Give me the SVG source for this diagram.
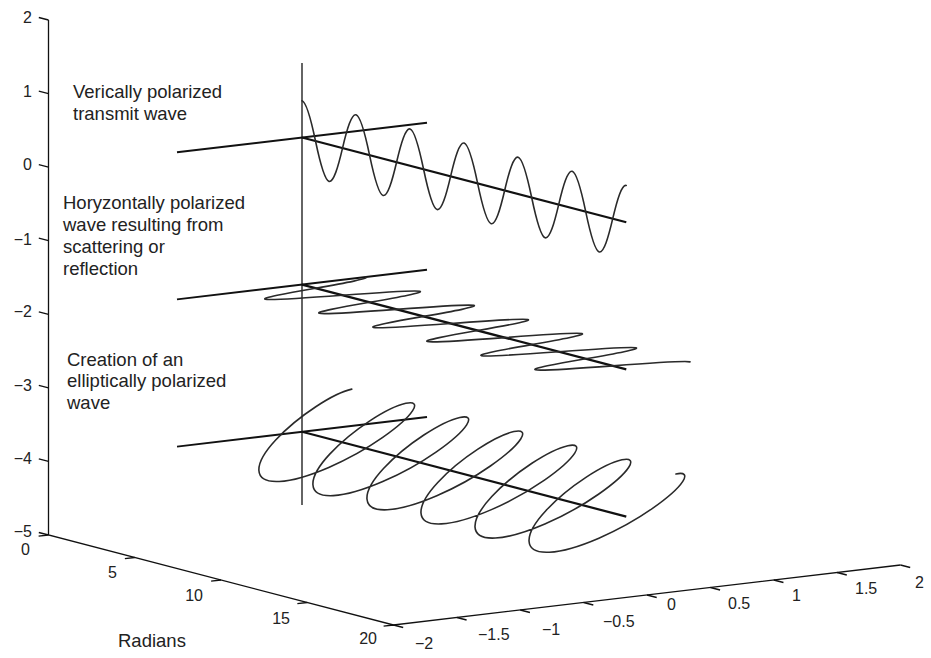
<svg xmlns="http://www.w3.org/2000/svg" width="931" height="658" viewBox="0 0 931 658">
<style>
.ax{fill:none;stroke:#111;stroke-width:1.3}
.wv{fill:none;stroke:#2a2a2a;stroke-width:1.6;stroke-linejoin:round;stroke-linecap:round}
.wa{fill:none;stroke:#111;stroke-width:2.2}
.bl{fill:none;stroke:#111;stroke-width:1.9}
text{font-family:"Liberation Sans",Arial,sans-serif;fill:#222}
.lb{font-size:18.5px}
.tl{font-size:16px}
.r{text-anchor:end}
</style>
<rect width="931" height="658" fill="#fff"/>
<g id="axes">
<path class="ax" d="M48.5,20 V535 L393.5,625 L900.5,565"/>
<path class="ax" d="M48.5,20 l-9.7,-2.5 M48.5,93.6 l-9.7,-2.5 M48.5,167.1 l-9.7,-2.5 M48.5,240.7 l-9.7,-2.5 M48.5,314.3 l-9.7,-2.5 M48.5,387.9 l-9.7,-2.5 M48.5,461.4 l-9.7,-2.5 M48.5,535 l-9.7,-2.5
M48.5,535 l-9.9,1.2 M134.75,557.5 l-9.9,1.2 M221,580 l-9.9,1.2 M307.25,602.5 l-9.9,1.2 M393.5,625 l-9.9,1.2
M393.5,625 l9.7,2.5 M456.9,617.5 l9.7,2.5 M520.25,610 l9.7,2.5 M583.6,602.5 l9.7,2.5 M647,595 l9.7,2.5 M710.4,587.5 l9.7,2.5 M773.75,580 l9.7,2.5 M837.1,572.5 l9.7,2.5 M900.5,565 l9.7,2.5"/>
</g>
<g id="ticklabels" class="tl">
<text class="r" x="32" y="23.4">2</text>
<text class="r" x="32" y="97.4">1</text>
<text class="r" x="32" y="170.4">0</text>
<text class="r" x="32" y="245.4">−1</text>
<text class="r" x="32" y="317.4">−2</text>
<text class="r" x="32" y="391.4">−3</text>
<text class="r" x="32" y="464.4">−4</text>
<text class="r" x="32" y="537">−5</text>
<text class="r" x="30" y="555">0</text>
<text class="r" x="117" y="577.5">5</text>
<text class="r" x="203" y="600.5">10</text>
<text class="r" x="290" y="623.5">15</text>
<text class="r" x="377" y="643.5">20</text>
<text x="415" y="649">−2</text>
<text x="478" y="640">−1.5</text>
<text x="542" y="635">−1</text>
<text x="603" y="627">−0.5</text>
<text x="667" y="610">0</text>
<text x="728" y="609">0.5</text>
<text x="792" y="601">1</text>
<text x="855" y="594">1.5</text>
<text x="915" y="588">2</text>
</g>
<text class="lb" x="118" y="647">Radians</text>
<g id="vertical-wave">
<line class="ax" x1="302" y1="63" x2="302" y2="505"/>
<line class="bl" x1="177" y1="152.3" x2="427" y2="122.7"/>
<line class="wa" x1="302" y1="137.5" x2="626.3" y2="222.3"/>
<path class="wv" d="M302,100.7
c4.5,1.18 9.01,18.83 13.51,40.33 c4.5,21.5 9.01,39.16 13.51,40.33 c4.5,1.18 9.01,-14.12 13.51,-33.27 c4.5,-19.15 9.01,-34.44 13.51,-33.27
c4.5,1.18 9.01,18.83 13.51,40.33 c4.5,21.5 9.01,39.16 13.51,40.33 c4.5,1.18 9.01,-14.12 13.51,-33.27 c4.5,-19.15 9.01,-34.44 13.51,-33.27
c4.5,1.18 9.01,18.83 13.51,40.33 c4.5,21.5 9.01,39.16 13.51,40.33 c4.5,1.18 9.01,-14.12 13.51,-33.27 c4.5,-19.15 9.01,-34.44 13.51,-33.27
c4.5,1.18 9.01,18.83 13.51,40.33 c4.5,21.5 9.01,39.16 13.51,40.33 c4.5,1.18 9.01,-14.12 13.51,-33.27 c4.5,-19.15 9.01,-34.44 13.51,-33.27
c4.5,1.18 9.01,18.83 13.51,40.33 c4.5,21.5 9.01,39.16 13.51,40.33 c4.5,1.18 9.01,-14.12 13.51,-33.27 c4.5,-19.15 9.01,-34.44 13.51,-33.27
c4.5,1.18 9.01,18.83 13.51,40.33 c4.5,21.5 9.01,39.16 13.51,40.33 c4.5,1.18 9.01,-14.12 13.51,-33.27 c4.5,-19.15 9.01,-34.44 13.51,-33.27"/>
<text class="lb" x="73" y="98">Verically polarized</text>
<text class="lb" x="73" y="120">transmit wave</text>
</g>
<g id="horizontal-wave">
<line class="bl" x1="177" y1="299.4" x2="427" y2="269.8"/>
<line class="wa" x1="302" y1="284.64" x2="626.3" y2="369.4"/>
<path class="wv" d="M365.75,277.14
c4.5,1.18 -19.54,5.71 -50.24,11.03 c-30.71,5.32 -54.74,9.86 -50.24,11.03 c4.5,1.18 37.55,-1 77.26,-3.97 c39.71,-2.96 72.76,-5.14 77.26,-3.97
c4.5,1.18 -19.54,5.71 -50.24,11.03 c-30.71,5.32 -54.74,9.86 -50.24,11.03 c4.5,1.18 37.55,-1 77.26,-3.97 c39.71,-2.96 72.76,-5.14 77.26,-3.97
c4.5,1.18 -19.54,5.71 -50.24,11.03 c-30.71,5.32 -54.74,9.86 -50.24,11.03 c4.5,1.18 37.55,-1 77.26,-3.97 c39.71,-2.96 72.76,-5.14 77.26,-3.97
c4.5,1.18 -19.54,5.71 -50.24,11.03 c-30.71,5.32 -54.74,9.86 -50.24,11.03 c4.5,1.18 37.55,-1 77.26,-3.97 c39.71,-2.96 72.76,-5.14 77.26,-3.97
c4.5,1.18 -19.54,5.71 -50.24,11.03 c-30.71,5.32 -54.74,9.86 -50.24,11.03 c4.5,1.18 37.55,-1 77.26,-3.97 c39.71,-2.96 72.76,-5.14 77.26,-3.97
c4.5,1.18 -19.54,5.71 -50.24,11.03 c-30.71,5.32 -54.74,9.86 -50.24,11.03 c4.5,1.18 37.55,-1 77.26,-3.97 c39.71,-2.96 72.76,-5.14 77.26,-3.97"/>
<text class="lb" x="63" y="208.5">Horyzontally polarized</text>
<text class="lb" x="63" y="230.5">wave resulting from</text>
<text class="lb" x="63" y="252.5">scattering or</text>
<text class="lb" x="63" y="274.5">reflection</text>
</g>
<g id="elliptical-wave">
<line class="bl" x1="177" y1="446.6" x2="427" y2="417"/>
<line class="wa" x1="302" y1="431.78" x2="626.3" y2="516.6"/>
<path class="wv" d="M351.78,389.14
c-17.5,3.77 -53.11,26.13 -76.1,50.86 c-22.99,24.73 -22.94,42.9 3.56,41.49 c26.5,-1.41 71.12,-21.42 103.12,-43.79 c31.99,-22.37 40.95,-38.19 23.45,-34.42
c-17.5,3.77 -53.11,26.13 -76.1,50.86 c-22.99,24.73 -22.94,42.9 3.56,41.49 c26.5,-1.41 71.12,-21.42 103.12,-43.79 c31.99,-22.37 40.95,-38.19 23.45,-34.42
c-17.5,3.77 -53.11,26.13 -76.1,50.86 c-22.99,24.73 -22.94,42.9 3.56,41.49 c26.5,-1.41 71.12,-21.42 103.12,-43.79 c31.99,-22.37 40.95,-38.19 23.45,-34.42
c-17.5,3.77 -53.11,26.13 -76.1,50.86 c-22.99,24.73 -22.94,42.9 3.56,41.49 c26.5,-1.41 71.12,-21.42 103.12,-43.79 c31.99,-22.37 40.95,-38.19 23.45,-34.42
c-17.5,3.77 -53.11,26.13 -76.1,50.86 c-22.99,24.73 -22.94,42.9 3.56,41.49 c26.5,-1.41 71.12,-21.42 103.12,-43.79 c31.99,-22.37 40.95,-38.19 23.45,-34.42
c-17.5,3.77 -53.11,26.13 -76.1,50.86 c-22.99,24.73 -22.94,42.9 3.56,41.49 c26.5,-1.41 71.12,-21.42 103.12,-43.79 c31.99,-22.37 40.95,-38.19 23.45,-34.42"/>
<text class="lb" x="67" y="365.5">Creation of an</text>
<text class="lb" x="67" y="386.5">elliptically polarized</text>
<text class="lb" x="67" y="408.5">wave</text>
</g>
</svg>
